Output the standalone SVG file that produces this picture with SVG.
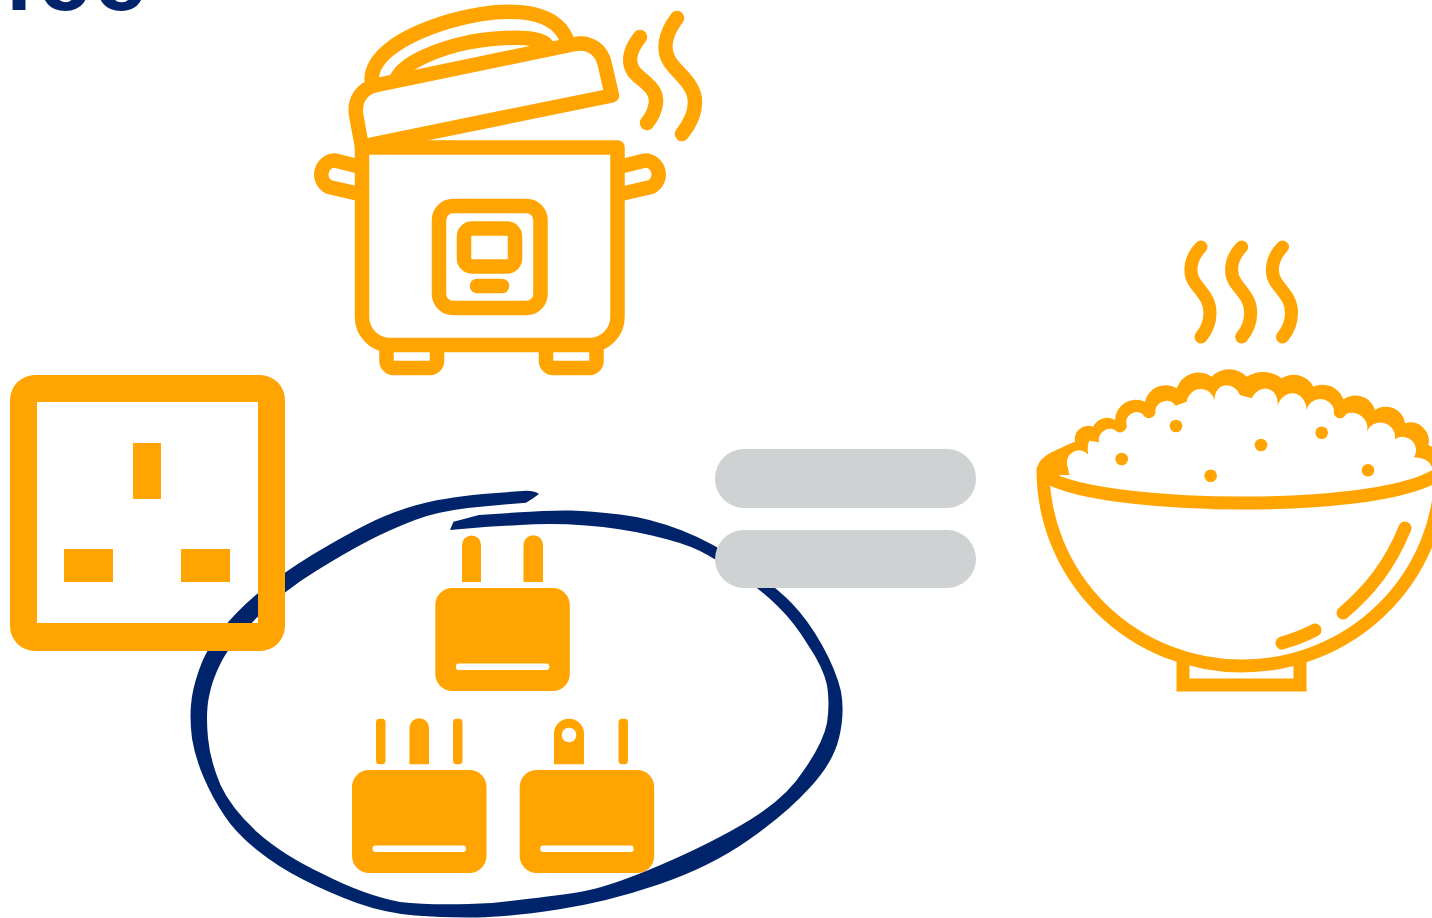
<svg xmlns="http://www.w3.org/2000/svg" width="1432" height="918" viewBox="0 0 1432 918">
<style>
.o{fill:#FFA400}
.n{fill:#00246B}
.s{fill:none;stroke:#FFA400;stroke-width:14.500;stroke-linecap:round;stroke-linejoin:round}
.b{fill:none;stroke:#FFA400;stroke-width:13;stroke-linecap:round}
.w{fill:#fff}
.g{fill:#CFD2D3}
.t{font-family:"Liberation Sans",Arial,sans-serif;font-weight:700;font-size:94px;fill:#00246B}
</style>
<defs>
<path id="steam" d="M1201 247C1190 258 1188 273 1195 283C1202 293 1210 299 1210 313C1210 322 1206 331 1201 337"/>
<g id="plugbody">
<rect class="o" x="0" y="0" width="134.500" height="103" rx="17"/>
<rect class="w" x="20.500" y="75.500" width="93.500" height="6.500" rx="3"/>
</g>
</defs>
<text class="t" x="6 38 94" y="9.500">ice</text>
<g id="ring">
<path class="n" d="M539 494Q536 491 526 490.700L483 494Q440.700 498 415 505.500Q389 513 365.500 525Q342 537 312 555Q282.600 573 260 591.500Q237.700 610 221.600 630Q205.600 650 199 670Q192 690 191 705Q189.700 720 192 738.500Q195 757 203.500 777Q212 797 224 815Q235.600 833 257 850Q278 867 304 880Q329.600 893 357 903Q385 913 415 915.500Q445 918 477 917.500Q509 917 558 909.500Q607 902 658.500 884.500Q710 867 748.500 840Q787 813 809.500 788Q833 763 839 738Q845 713 841 691.500Q836 670 822 645Q808 620 792 603.500Q776 587 745 565Q714 543 682 530.500Q650 518 620 514.500Q590 511 571 510.500Q552 510 515.500 512.500L479 515L453.500 521.700L450 530L487.700 526.700L520 525Q552 523 586 525.500Q620 528 652 535.500Q684 543 699 550.500Q714 558 736.500 573Q759 588 777 605.500Q795 623 808 645Q823 667 827 685Q830 703 827 723Q823 743 804 770Q787 797 750.500 819.500Q714 842 660.500 865Q607 888 577 892.500Q547.500 897 492 903Q436 906 400 902Q364 895 323 874Q282.600 855 257 832Q231 808 220.500 785Q210 760 208 738Q205.600 713 209 696.500Q212 680 221.500 661.500Q231 643 258 616.500Q284.700 590 316 571Q346.700 552 368 541Q389 530 415 520Q440.700 510 483 506.500L526 502.700L532 499Z"/>
</g>
<g id="socket">
<path class="o" fill-rule="evenodd" d="M35 375H260A25 25 0 0 1 285 400V626A25 25 0 0 1 260 651H35A25 25 0 0 1 10 626V400A25 25 0 0 1 35 375ZM37 402V623H258V402Z"/>
<rect class="o" x="133" y="443" width="28" height="56"/>
<rect class="o" x="64" y="549" width="49" height="33"/>
<rect class="o" x="181" y="549" width="49" height="33"/>
</g>
<g id="equals">
<rect class="g" x="715" y="449" width="261" height="59" rx="29"/>
<rect class="g" x="715" y="530" width="261" height="58" rx="29"/>
</g>
<g id="plug-two-pin">
<use href="#plugbody" x="435.300" y="588"/>
<path class="o" d="M462 582V545a9.500 9.500 0 0 1 19 0V582Z"/>
<path class="o" d="M523.500 582V545a9.500 9.500 0 0 1 19.500 0V582Z"/>
</g>
<g id="plug-three-pin">
<use href="#plugbody" x="352" y="770"/>
<rect class="o" x="376" y="718.700" width="9.500" height="45.600" rx="3.500"/>
<path class="o" d="M409.500 764.300V728a9.700 9.700 0 0 1 19.500 0V764.300Z"/>
<rect class="o" x="453" y="718.700" width="9.500" height="45.600" rx="3.500"/>
</g>
<g id="plug-earth-pin">
<use href="#plugbody" x="519.700" y="770"/>
<path class="o" d="M554 764.300V733.700a15 15 0 0 1 30 0V764.300Z"/>
<circle class="w" cx="569" cy="735" r="7.300"/>
<rect class="o" x="618.500" y="718.700" width="9.500" height="45.600" rx="3.500"/>
</g>
<g id="rice-cooker">
<path class="s" d="M372 84C368 58 400 36 450 21C495 8 553 4 567 40" stroke-width="14"/>
<path class="s" d="M397 78C404 62 440 48 470 42C500 37 535 35 546 44" stroke-width="14"/>
<path class="s" d="M362 147L356.500 117C353 100 362 88 377 85L575 44C590 41 602 50 605 65L612 95.500L364 146Z"/>
<path class="s" d="M362 147.500H617.500V317A28 28 0 0 1 589.500 345H390A28 28 0 0 1 362 317Z"/>
<path class="s" d="M355 165.500L335 160.500A14 14 0 0 0 329 187L355 193" stroke-linecap="butt"/>
<path class="s" d="M625 165.500L645 160.500A14 14 0 0 1 651 187L625 193" stroke-linecap="butt"/>
<path class="s" d="M386.500 350V361A7 7 0 0 0 393.500 368H430A7 7 0 0 0 437 361V350" stroke-linecap="butt"/>
<path class="s" d="M546 350V361A7 7 0 0 0 553 368H589.500A7 7 0 0 0 596.500 361V350" stroke-linecap="butt"/>
<rect class="s" x="439" y="206" width="101.500" height="102" rx="14"/>
<rect class="s" x="464" y="228.500" width="51" height="38" rx="8"/>
<path class="s" d="M477 286H502"/>
<path class="s" d="M640 37C628 52 627 66 637 75C648 85 657 90 656 103C655 110 652 117 647 123"/>
<path class="s" d="M677 18C665 34 662 50 670 62C678 74 695 84 695 102C695 114 690 124 682 134"/>
</g>
<g id="rice-bowl">
<use href="#steam" class="b"/>
<use href="#steam" class="b" x="40.700"/>
<use href="#steam" class="b" x="81.500"/>
<path class="b" d="M1183 662V685H1300V662" stroke-linecap="butt"/>
<path class="b" d="M1043 470A199 196 0 0 0 1441 470"/>
<path class="b" d="M1045 476C1080 497 1180 503 1242 503C1310 503 1405 497 1440 473" stroke-width="12.500"/>
<path class="o" transform="translate(1030 230) scale(.33333)" d="M22 720C22 680 70 665 100 650Q120 640 135 635A41 41 0 0 1 190 590A46 46 0 0 1 255 570A63 63 0 0 1 345 515A63 63 0 0 1 440 475A69 69 0 0 1 545 440A73 73 0 0 1 650 440A92 92 0 0 1 755 445A66 66 0 0 1 850 470A66 66 0 0 1 940 508A62 62 0 0 1 1035 540A58 58 0 0 1 1125 580A55 55 0 0 1 1195 645L1206 650V712Q1195 682 1152 682A40 40 0 0 0 1095 628A44 44 0 0 0 1010 607A46 46 0 0 0 948 552A18 18 0 0 1 912 540A42 42 0 0 0 830 540A45 55 6 0 0 742 530A41 50 18 0 0 665 505L630 495A40 50 -18 0 0 555 520A43 47 3 0 0 470 515L437 527A34 34 0 0 0 376 540A20 20 0 0 1 338 552A31 31 0 0 0 290 585A20 20 0 0 1 255 600A34 34 0 0 0 207 637L178 632Q170 650 175 675A36 36 0 0 0 113 710L118 735H90L64 762H22Z"/>
<circle class="o" cx="1121.700" cy="459" r="6.300"/>
<circle class="o" cx="1176" cy="426" r="6.300"/>
<circle class="o" cx="1210.700" cy="475.700" r="6.300"/>
<circle class="o" cx="1261" cy="445" r="6.300"/>
<circle class="o" cx="1321.700" cy="432.700" r="6.300"/>
<circle class="o" cx="1368" cy="470.300" r="6.300"/>
<path class="b" d="M1405 528C1390 565 1370 590 1343 613"/>
<path class="b" d="M1315 630Q1300 638 1282 643"/>
</g>
</svg>
